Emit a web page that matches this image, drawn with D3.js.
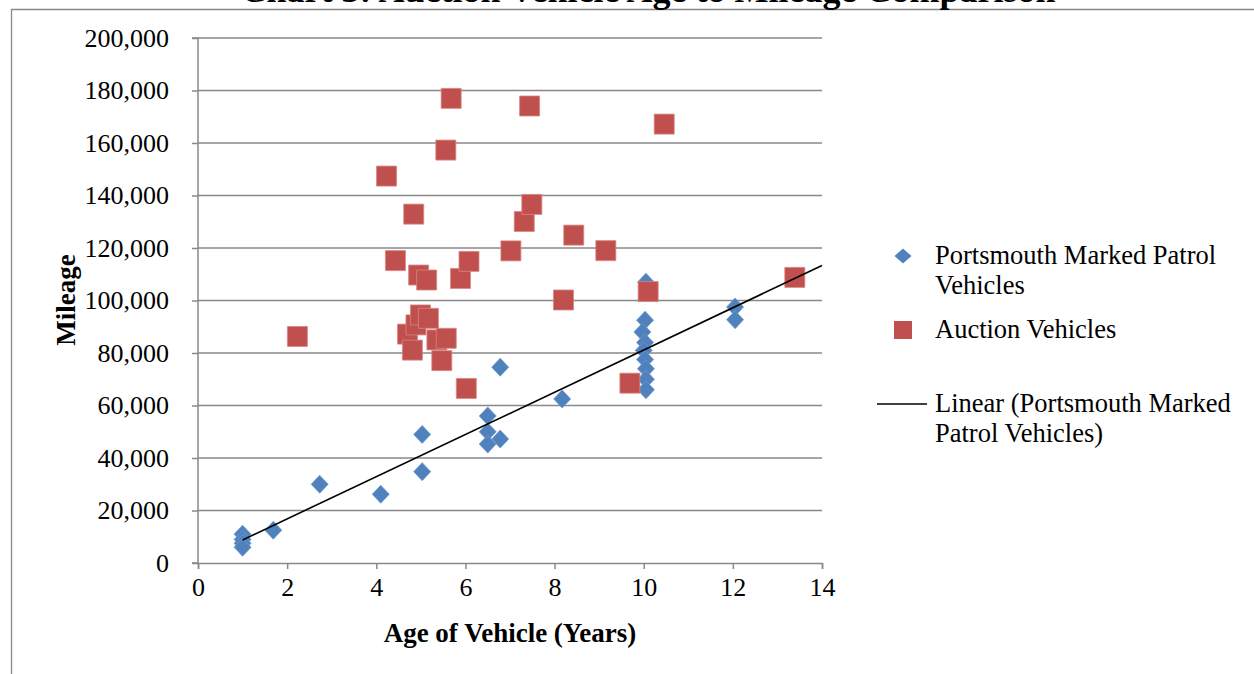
<!DOCTYPE html>
<html>
<head>
<meta charset="utf-8">
<script src="https://cdn.jsdelivr.net/npm/d3@7"></script>
<style>
  body { margin: 0; background: #fff; }
  svg { display: block; }
</style>
</head>
<body>
<div id="chart"></div>
<script>
// Dados (idade em anos, quilometragem em milhas)
const titulo = "Chart 3: Auction Vehicle Age to Mileage Comparison";
const xTicks = [0, 2, 4, 6, 8, 10, 12, 14];
const yTicks = [0, 20000, 40000, 60000, 80000, 100000, 120000, 140000, 160000, 180000, 200000];

const patrolAge = [1.0, 1.0, 1.0, 1.0, 1.69, 2.73, 4.1, 5.03, 5.03, 6.5, 6.5, 6.5, 6.78, 6.78,
  8.17, 10.05, 10.03, 9.97, 10.03, 10.0, 10.03, 10.05, 10.05, 10.05, 12.05, 12.05];
const patrolMiles = [11000, 9000, 7500, 6000, 12500, 30000, 26200, 49000, 34800, 56000, 50000, 45300, 47200, 74600,
  62500, 107000, 92500, 88000, 84000, 81000, 77500, 74000, 70000, 66000, 97500, 92700];

const auctionAge = [2.23, 4.23, 4.43, 4.70, 4.81, 4.84, 4.89, 4.95, 4.99, 5.13, 5.17, 5.36, 5.47, 5.56, 5.57,
  5.68, 5.89, 6.02, 6.08, 7.02, 7.32, 7.44, 7.49, 8.2, 8.43, 9.15, 9.69, 10.1, 10.46, 13.39];
const auctionMiles = [86300, 147400, 115200, 87200, 81100, 132900, 90700, 109700, 94500, 107800, 93200, 85000, 77100, 157300, 85600,
  177000, 108400, 66500, 114900, 118900, 130100, 174100, 136600, 100200, 124900, 119000, 68500, 103400, 167200, 108800];

const legendaLinhas = [
  ["Portsmouth Marked Patrol", "Vehicles"],
  ["Auction Vehicles"],
  ["Linear (Portsmouth Marked", "Patrol Vehicles)"]
];

const width = 1254, height = 674;
const plot = { left: 198, right: 822, top: 38, bottom: 563 };
const serif = "'Liberation Serif', 'Times New Roman', serif";
const azul = "#4F81BD", vermelho = "#C0504D", cinza = "#898989";

const svg = d3.select("#chart").append("svg")
  .attr("width", width).attr("height", height);

// moldura da area do grafico
svg.append("path")
  .attr("d", `M11.5,${height} V9.5 H${width}`)
  .attr("fill", "none").attr("stroke", cinza).attr("stroke-width", 1.3);

// titulo (cortado no topo, como no original)
svg.append("text")
  .attr("x", 648).attr("y", 1.5)
  .attr("text-anchor", "middle")
  .attr("font-family", serif).attr("font-weight", "bold").attr("font-size", "36px")
  .text(titulo);

const x = d3.scaleLinear().domain([0, 14]).range([plot.left, plot.right]);
const y = d3.scaleLinear().domain([0, 200000]).range([plot.bottom, plot.top]);

// grade horizontal
svg.append("g")
  .selectAll("line")
  .data(yTicks.filter(d => d > 0))
  .join("line")
  .attr("x1", plot.left).attr("x2", plot.right)
  .attr("y1", d => y(d)).attr("y2", d => y(d))
  .attr("stroke", cinza).attr("stroke-width", 1.5);

// eixo Y
const yAxis = svg.append("g")
  .attr("transform", `translate(${plot.left},0)`)
  .call(d3.axisLeft(y).tickValues(yTicks).tickSize(6).tickPadding(23)
    .tickFormat(d3.format(",")));
yAxis.selectAll("path, line").attr("stroke", cinza).attr("stroke-width", 1.5);
yAxis.selectAll("text")
  .attr("font-family", serif).attr("font-size", "26px").attr("fill", "#000");
yAxis.select(".domain").attr("d", `M-6,${plot.top}H0V${plot.bottom}H-6`);

// eixo X
const xAxis = svg.append("g")
  .attr("transform", `translate(0,${plot.bottom})`)
  .call(d3.axisBottom(x).tickValues(xTicks).tickSize(6).tickPadding(9));
xAxis.selectAll("path, line").attr("stroke", cinza).attr("stroke-width", 1.5);
xAxis.selectAll("text")
  .attr("font-family", serif).attr("font-size", "26px").attr("fill", "#000");

// titulos dos eixos
svg.append("text")
  .attr("x", 510).attr("y", 642)
  .attr("text-anchor", "middle")
  .attr("font-family", serif).attr("font-weight", "bold").attr("font-size", "27px")
  .text("Age of Vehicle (Years)");
svg.append("text")
  .attr("transform", "translate(75,300) rotate(-90)")
  .attr("text-anchor", "middle")
  .attr("font-family", serif).attr("font-weight", "bold").attr("font-size", "27px")
  .text("Mileage");

const losango = "M0,-9L8.5,0L0,9L-8.5,0Z";
const quadrado = "M-10,-10H10V10H-10Z";

const patrol = patrolAge.map((a, i) => ({ age: a, miles: patrolMiles[i] }));
const auction = auctionAge.map((a, i) => ({ age: a, miles: auctionMiles[i] }));

// pontos
svg.append("g")
  .selectAll("path")
  .data(patrol)
  .join("path")
  .attr("d", losango)
  .attr("transform", d => `translate(${x(d.age)},${y(d.miles)})`)
  .attr("fill", azul).attr("stroke", "#6f98cb").attr("stroke-width", 0.8);

svg.append("g")
  .selectAll("path")
  .data(auction)
  .join("path")
  .attr("d", quadrado)
  .attr("transform", d => `translate(${x(d.age)},${y(d.miles)})`)
  .attr("fill", vermelho).attr("stroke", "#d78684").attr("stroke-width", 0.8);

// tendencia linear (minimos quadrados) sobre as viaturas de Portsmouth
const mx = d3.mean(patrol, d => d.age), my = d3.mean(patrol, d => d.miles);
const slope = d3.sum(patrol, d => (d.age - mx) * (d.miles - my)) /
  d3.sum(patrol, d => (d.age - mx) ** 2);
const intercept = my - slope * mx;
const trendX = [d3.min(patrolAge), 14];
svg.append("path")
  .datum(trendX)
  .attr("fill", "none").attr("stroke", "#000").attr("stroke-width", 1.6)
  .attr("d", d3.line().x(d => x(d)).y(d => y(intercept + slope * d)));

// legenda
const leg = svg.append("g");
leg.append("path").attr("d", "M0,-7.5L8.5,0L0,7.5L-8.5,0Z")
  .attr("transform", "translate(903,256)").attr("fill", azul);
leg.append("path").attr("d", "M-9,-9H9V9H-9Z")
  .attr("transform", "translate(903,330)").attr("fill", vermelho);
leg.append("line").attr("x1", 877).attr("x2", 927).attr("y1", 404).attr("y2", 404)
  .attr("stroke", "#000").attr("stroke-width", 1.6);

const baseLinhas = [264, 338, 412];
legendaLinhas.forEach((linhas, i) => {
  const t = leg.append("text")
    .attr("x", 935).attr("y", baseLinhas[i])
    .attr("font-family", serif).attr("font-size", "26.5px").attr("fill", "#000");
  linhas.forEach((s, j) => {
    t.append("tspan").attr("x", 935).attr("dy", j === 0 ? 0 : 29.5).text(s);
  });
});
</script>
</body>
</html>
